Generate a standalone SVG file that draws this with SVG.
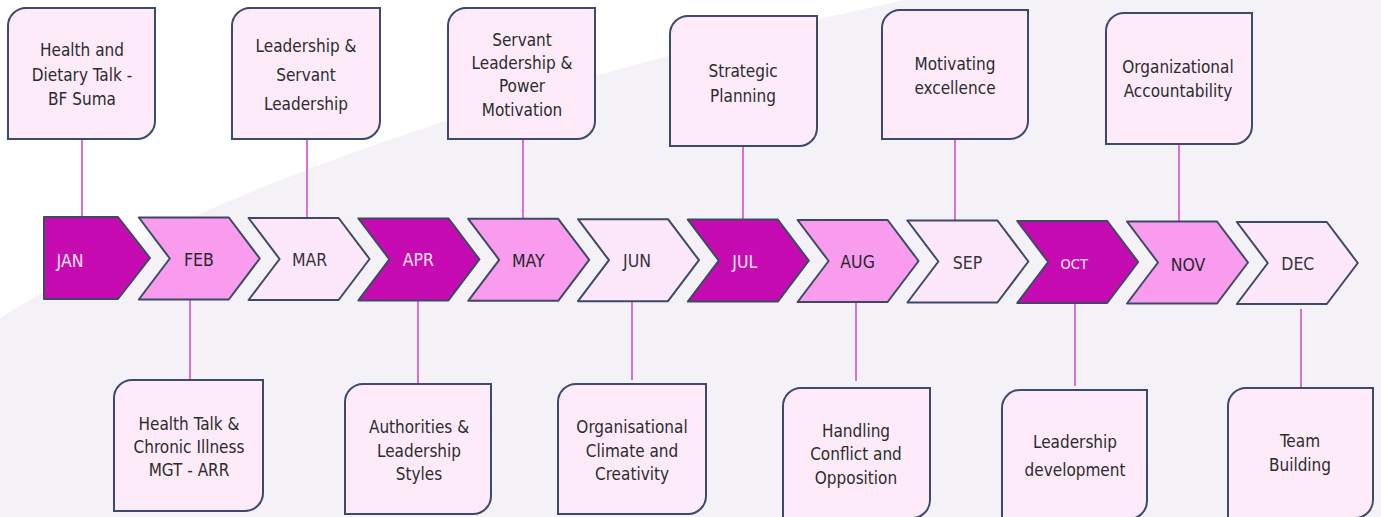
<svg xmlns="http://www.w3.org/2000/svg" width="1381" height="517" viewBox="0 0 1381 517">
  <style>
    .bg { fill: #ffffff; }
    .haze { fill: #f4f2f7; }
    .chev { stroke: #3d4a66; stroke-width: 2; stroke-linejoin: round; }
    .dark { fill: #c70bb3; }
    .mid { fill: #f99cee; }
    .light { fill: #fde8fb; }
    .box { fill: #fdebfa; stroke: #3c4a6b; stroke-width: 2; }
    .link { stroke: #dc6fd6; stroke-width: 2; fill: none; }
    .month { font-family: "DejaVu Sans Condensed", "DejaVu Sans", sans-serif; font-size: 17.5px; text-anchor: middle; dominant-baseline: central; }
    .m-dark { fill: #fbe6f6; }
    .m-mid { fill: #26262f; }
    .m-light { fill: #34343d; }
    .label { font-family: "DejaVu Sans Condensed", "DejaVu Sans", sans-serif; font-size: 17px; fill: #2c2c2c; text-anchor: middle; }
  </style>
  <defs>
    <!-- chevron step, origin at the top-left notch corner -->
    <path id="chevron" d="M0,0 H90 L121,41 L90,82 H0 L31,41 Z"/>
  </defs>

  <!-- backdrop: white upper-left, soft grey sweep elsewhere -->
  <rect class="haze" x="0" y="0" width="1381" height="517"/>
  <path class="bg" d="M0,0 H905 Q300,130 0,318 Z"/>

  <!-- connectors -->
  <g id="connectors">
    <line class="link" x1="82" y1="139" x2="82" y2="218"/>
    <line class="link" x1="307" y1="139" x2="307" y2="218"/>
    <line class="link" x1="523" y1="139" x2="523" y2="219"/>
    <line class="link" x1="743" y1="146" x2="743" y2="220"/>
    <line class="link" x1="955" y1="139" x2="955" y2="221"/>
    <line class="link" x1="1179" y1="144" x2="1179" y2="222"/>
    <line class="link" x1="190" y1="300" x2="190" y2="380"/>
    <line class="link" x1="418" y1="301" x2="418" y2="384"/>
    <line class="link" x1="632" y1="301" x2="632" y2="380"/>
    <line class="link" x1="856" y1="302" x2="856" y2="381"/>
    <line class="link" x1="1075" y1="303" x2="1075" y2="386"/>
    <line class="link" x1="1301" y1="309" x2="1301" y2="388"/>
  </g>

  <!-- month timeline -->
  <g id="jan">
    <path class="chev dark" d="M44,217 H118 L150,258 L118,299 H44 Z"/>
    <text class="month m-dark" x="70" y="261">JAN</text>
  </g>
  <g id="feb" transform="translate(138.8,217.5)">
    <use href="#chevron" class="chev mid"/>
    <text class="month m-mid" x="60" y="42">FEB</text>
  </g>
  <g id="mar" transform="translate(248.6,218)">
    <use href="#chevron" class="chev light"/>
    <text class="month m-light" x="61" y="42">MAR</text>
  </g>
  <g id="apr" transform="translate(358.4,218.4)">
    <use href="#chevron" class="chev dark"/>
    <text class="month m-dark" x="60" y="42">APR</text>
  </g>
  <g id="may" transform="translate(468.2,218.8)">
    <use href="#chevron" class="chev mid"/>
    <text class="month m-mid" x="60" y="42">MAY</text>
  </g>
  <g id="jun" transform="translate(578,219.2)">
    <use href="#chevron" class="chev light"/>
    <text class="month m-light" x="59" y="42">JUN</text>
  </g>
  <g id="jul" transform="translate(687.8,219.6)">
    <use href="#chevron" class="chev dark"/>
    <text class="month m-dark" x="57" y="42">JUL</text>
  </g>
  <g id="aug" transform="translate(797.6,220)">
    <use href="#chevron" class="chev mid"/>
    <text class="month m-mid" x="60" y="42">AUG</text>
  </g>
  <g id="sep" transform="translate(907.4,220.5)">
    <use href="#chevron" class="chev light"/>
    <text class="month m-light" x="60" y="42">SEP</text>
  </g>
  <g id="oct" transform="translate(1017.2,221)">
    <use href="#chevron" class="chev dark"/>
    <text class="month m-dark" x="57" y="43" style="font-size:14.5px">OCT</text>
  </g>
  <g id="nov" transform="translate(1127,221.5)">
    <use href="#chevron" class="chev mid"/>
    <text class="month m-mid" x="61" y="43">NOV</text>
  </g>
  <g id="dec" transform="translate(1236.8,222)">
    <use href="#chevron" class="chev light"/>
    <text class="month m-light" x="61" y="42">DEC</text>
  </g>

  <!-- topics above the timeline -->
  <g id="topic-jan">
    <path class="box" d="M26,8 H155 V121 A18,18 0 0 1 137,139 H8 V26 A18,18 0 0 1 26,8 Z"/>
    <text class="label" x="82" y="56">Health  and</text>
    <text class="label" x="82" y="81">Dietary Talk -</text>
    <text class="label" x="82" y="105">BF Suma</text>
  </g>
  <g id="topic-mar">
    <path class="box" d="M250,8 H380 V121 A18,18 0 0 1 362,139 H232 V26 A18,18 0 0 1 250,8 Z"/>
    <text class="label" x="306" y="52">Leadership &amp;</text>
    <text class="label" x="306" y="81">Servant</text>
    <text class="label" x="306" y="110">Leadership</text>
  </g>
  <g id="topic-may">
    <path class="box" d="M466,8 H595 V121 A18,18 0 0 1 577,139 H448 V26 A18,18 0 0 1 466,8 Z"/>
    <text class="label" x="522" y="46">Servant</text>
    <text class="label" x="522" y="69">Leadership &amp;</text>
    <text class="label" x="522" y="92">Power</text>
    <text class="label" x="522" y="116">Motivation</text>
  </g>
  <g id="topic-jul">
    <path class="box" d="M688,16 H817 V128 A18,18 0 0 1 799,146 H670 V34 A18,18 0 0 1 688,16 Z"/>
    <text class="label" x="743" y="77">Strategic</text>
    <text class="label" x="743" y="102">Planning</text>
  </g>
  <g id="topic-sep">
    <path class="box" d="M900,10 H1028 V121 A18,18 0 0 1 1010,139 H882 V28 A18,18 0 0 1 900,10 Z"/>
    <text class="label" x="955" y="70">Motivating</text>
    <text class="label" x="955" y="94">excellence</text>
  </g>
  <g id="topic-nov">
    <path class="box" d="M1124,13 H1252 V126 A18,18 0 0 1 1234,144 H1106 V31 A18,18 0 0 1 1124,13 Z"/>
    <text class="label" x="1178" y="73">Organizational</text>
    <text class="label" x="1178" y="97">Accountability</text>
  </g>

  <!-- topics below the timeline -->
  <g id="topic-feb">
    <path class="box" d="M132,380 H263 V493 A18,18 0 0 1 245,511 H114 V398 A18,18 0 0 1 132,380 Z"/>
    <text class="label" x="189" y="430">Health Talk &amp;</text>
    <text class="label" x="189" y="453">Chronic Illness</text>
    <text class="label" x="189" y="476">MGT - ARR</text>
  </g>
  <g id="topic-apr">
    <path class="box" d="M363,384 H491 V496 A18,18 0 0 1 473,514 H345 V402 A18,18 0 0 1 363,384 Z"/>
    <text class="label" x="419" y="433">Authorities &amp;</text>
    <text class="label" x="419" y="457">Leadership</text>
    <text class="label" x="419" y="480">Styles</text>
  </g>
  <g id="topic-jun">
    <path class="box" d="M576,384 H706 V496 A18,18 0 0 1 688,514 H558 V402 A18,18 0 0 1 576,384 Z"/>
    <text class="label" x="632" y="433">Organisational</text>
    <text class="label" x="632" y="457">Climate and</text>
    <text class="label" x="632" y="480">Creativity</text>
  </g>
  <g id="topic-aug">
    <path class="box" d="M801,388 H930 V500 A18,18 0 0 1 912,518 H783 V406 A18,18 0 0 1 801,388 Z"/>
    <text class="label" x="856" y="437">Handling</text>
    <text class="label" x="856" y="460">Conflict and</text>
    <text class="label" x="856" y="484">Opposition</text>
  </g>
  <g id="topic-oct">
    <path class="box" d="M1020,390 H1147 V501 A18,18 0 0 1 1129,519 H1002 V408 A18,18 0 0 1 1020,390 Z"/>
    <text class="label" x="1075" y="448">Leadership</text>
    <text class="label" x="1075" y="476">development</text>
  </g>
  <g id="topic-dec">
    <path class="box" d="M1246,388 H1373 V500 A18,18 0 0 1 1355,518 H1228 V406 A18,18 0 0 1 1246,388 Z"/>
    <text class="label" x="1300" y="447">Team</text>
    <text class="label" x="1300" y="471">Building</text>
  </g>
</svg>
